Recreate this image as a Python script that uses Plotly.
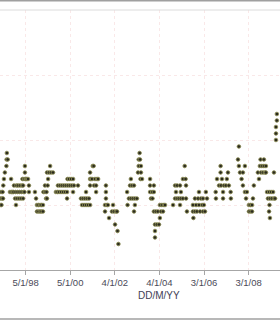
import plotly.graph_objects as go
import pandas as pd

decimal_year = [
    1996.87, 1996.89, 1996.91, 1996.93, 1996.96, 1996.98, 1997.00, 1997.01, 1997.04, 1997.08,
    1997.15, 1997.16, 1997.17, 1997.21,
    1997.31, 1997.36, 1997.38, 1997.43, 1997.47, 1997.49, 1997.54, 1997.56, 1997.58, 1997.60,
    1997.63, 1997.65, 1997.67, 1997.72, 1997.74, 1997.76, 1997.81, 1997.83, 1997.85, 1997.87,
    1997.90, 1997.90, 1997.92, 1997.94, 1997.96, 1997.98, 1997.98, 1998.01, 1998.03, 1998.07,
    1998.12, 1998.16, 1998.16,
    1998.43, 1998.48, 1998.52, 1998.52, 1998.59, 1998.59, 1998.66, 1998.66, 1998.72, 1998.72,
    1998.79, 1998.79, 1998.81, 1998.88, 1998.88, 1998.93, 1998.95, 1998.97, 1998.97, 1999.00,
    1999.02, 1999.06, 1999.11, 1999.15, 1999.24,
    1999.37, 1999.44, 1999.46, 1999.51, 1999.55, 1999.60, 1999.64, 1999.69, 1999.73, 1999.78,
    1999.82, 1999.87, 1999.87, 1999.89, 1999.91, 1999.96, 2000.00, 2000.05, 2000.09, 2000.14,
    2000.14, 2000.18, 2000.36,
    2000.49, 2000.54, 2000.58, 2000.63, 2000.67, 2000.72, 2000.72, 2000.76, 2000.81, 2000.85,
    2000.90, 2000.90, 2000.90, 2000.90, 2000.94, 2000.99, 2001.02, 2001.06, 2001.08,
    2001.12, 2001.17, 2001.17, 2001.21, 2001.26,
    2001.57, 2001.57, 2001.61, 2001.61, 2001.61, 2001.66, 2001.70, 2001.75, 2001.88, 2001.93,
    2001.97, 2002.02, 2002.06, 2002.11, 2002.13, 2002.17,
    2002.56, 2002.58, 2002.64, 2002.69, 2002.73, 2002.73, 2002.78, 2002.82, 2002.87, 2002.87,
    2002.91, 2002.91, 2003.00, 2003.05, 2003.08, 2003.08, 2003.12,
    2003.14, 2003.18, 2003.18, 2003.16, 2003.23,
    2003.59, 2003.59, 2003.59, 2003.63, 2003.68, 2003.70, 2003.76, 2003.76, 2003.76, 2003.81,
    2003.81, 2003.81, 2003.85, 2003.90, 2003.94, 2003.99, 2004.03, 2004.03, 2004.08, 2004.12,
    2004.17, 2004.21, 2004.26,
    2004.62, 2004.71, 2004.71, 2004.75, 2004.80, 2004.80, 2004.88, 2004.93, 2004.93, 2004.97,
    2004.97, 2005.06, 2005.06, 2005.14, 2005.18, 2005.20, 2005.20, 2005.24,
    2005.51, 2005.51, 2005.53, 2005.60, 2005.60, 2005.65, 2005.69, 2005.74, 2005.78, 2005.78,
    2005.83, 2005.87, 2005.92, 2005.96, 2005.96, 2006.00, 2006.05, 2006.09, 2006.14,
    2006.53, 2006.54, 2006.59, 2006.68, 2006.75, 2006.75, 2006.77, 2006.81, 2006.86, 2006.86,
    2006.90, 2006.99, 2007.03, 2007.08, 2007.12, 2007.20, 2007.21,
    2007.53, 2007.57, 2007.57, 2007.62, 2007.69, 2007.75, 2007.75, 2007.84, 2007.84, 2007.89,
    2007.93, 2008.02, 2008.02, 2008.09, 2008.09, 2008.16, 2008.16, 2008.20, 2008.24,
    2008.42, 2008.47, 2008.51, 2008.54, 2008.56, 2008.60, 2008.65, 2008.69, 2008.69, 2008.74,
    2008.78, 2008.78, 2008.83, 2008.87, 2008.92, 2008.92, 2008.94, 2008.96, 2008.96, 2009.01,
    2009.05, 2009.10, 2009.14, 2009.14, 2009.19, 2009.23, 2009.23, 2009.23, 2009.27, 2009.27,
]

observed = [
    10, 11, 12, 10, 11, 12, 11, 13, 14, 15,
    16, 17, 18, 17,
    12, 14, 12, 12, 12, 13, 11, 12, 10, 13,
    11, 12, 13, 11, 12, 13, 11, 12, 13, 14,
    11, 13, 12, 14, 12, 15, 16, 14, 14, 14,
    14, 13, 12,
    12, 11, 10, 9, 10, 9, 10, 9, 10, 9,
    10, 9, 12, 13, 12, 11, 12, 11, 15, 13,
    14, 15, 16, 15, 15,
    12, 12, 13, 12, 13, 12, 13, 12, 13, 12,
    13, 12, 11, 14, 13, 14, 13, 14, 13, 14,
    12, 13, 13,
    11, 10, 11, 10, 11, 10, 12, 11, 10, 11,
    10, 13, 14, 15, 14, 14, 16, 16, 13,
    14, 13, 12, 14, 14,
    10, 9, 13, 12, 11, 10, 10, 8, 9, 10,
    9, 7, 9, 9, 6, 4,
    12, 10, 11, 13, 14, 11, 13, 11, 13, 9,
    10, 11, 11, 15, 16, 17, 18,
    17, 16, 15, 14, 14,
    14, 13, 12, 11, 12, 11, 13, 12, 9, 7,
    6, 5, 9, 7, 9, 7, 8, 10, 9, 10,
    9, 10, 10,
    10, 11, 13, 12, 13, 11, 11, 13, 10, 12,
    11, 14, 11, 16, 14, 13, 11, 9,
    9, 10, 8, 11, 9, 10, 9, 11, 10, 12,
    9, 11, 10, 9, 11, 10, 9, 12, 11,
    12, 11, 14, 13, 16, 15, 13, 14, 12, 11,
    13, 13, 14, 15, 13, 12, 11,
    17, 19, 16, 15, 14, 15, 13, 16, 12, 11,
    12, 10, 9, 10, 9, 10, 9, 11, 13,
    15, 14, 16, 17, 15, 16, 15, 17, 16, 15,
    16, 15, 12, 11, 12, 9, 10, 8, 11, 12,
    11, 12, 15, 11, 11, 20, 21, 22, 23, 24,
]

tick_dates = ["1998-01-05", "2000-01-05", "2002-01-04", "2004-01-04", "2006-01-03", "2008-01-03"]
tick_labels = ["5/1/98", "5/1/00", "4/1/02", "4/1/04", "3/1/06", "3/1/08"]


def to_date(y):
    yr = int(y)
    start = pd.Timestamp(year=yr, month=1, day=1)
    end = pd.Timestamp(year=yr + 1, month=1, day=1)
    return start + (end - start) * (y - yr)


dates = [to_date(y) for y in decimal_year]

fig = go.Figure()
fig.add_trace(go.Scatter(
    x=dates, y=observed, mode="markers",
    marker=dict(size=3.6, color="#2a2a1e", line=dict(color="#8a8a55", width=0.9)),
    hoverinfo="skip", showlegend=False,
))

grid_col = "#f9e8e8"

fig.update_layout(
    width=280, height=320,
    margin=dict(l=0, r=0, t=10, b=50),
    paper_bgcolor="white", plot_bgcolor="white",
    showlegend=False,
    xaxis=dict(
        type="date",
        range=["1996-11-12", "2009-05-31"],
        tickmode="array", tickvals=tick_dates, ticktext=tick_labels,
        tickfont=dict(family="Liberation Sans, Arial", size=9.5, color="#4a4a58"),
        showgrid=True, gridcolor=grid_col, griddash="dot", gridwidth=1,
        showline=True, linecolor="#a6a6a6", linewidth=1,
        ticks="outside", ticklen=4, tickcolor="#a6a6a6",
        zeroline=False,
    ),
    yaxis=dict(
        range=[0, 40], dtick=10, tick0=0,
        showticklabels=False, ticks="",
        showgrid=True, gridcolor=grid_col, griddash="dot", gridwidth=1,
        showline=False, zeroline=False,
    ),
    shapes=[
        dict(type="line", xref="paper", yref="paper", x0=0, x1=1, y0=1.0, y1=1.0,
             line=dict(color="#dcdcdc", width=1)),
        dict(type="line", xref="paper", yref="paper", x0=0, x1=1, y0=1.0365, y1=1.0365,
             line=dict(color="#a0a0a0", width=2)),
        dict(type="line", xref="paper", yref="paper", x0=0, x1=1, y0=-0.188, y1=-0.188,
             line=dict(color="#a0a0a0", width=1.5)),
    ],
    annotations=[
        dict(text="DD/M/YY", xref="paper", yref="paper", x=0.568, y=-0.098,
             xanchor="center", yanchor="middle", showarrow=False,
             font=dict(family="Liberation Sans, Arial", size=10, color="#3e3e55")),
    ],
)

fig.write_html("out.html")
